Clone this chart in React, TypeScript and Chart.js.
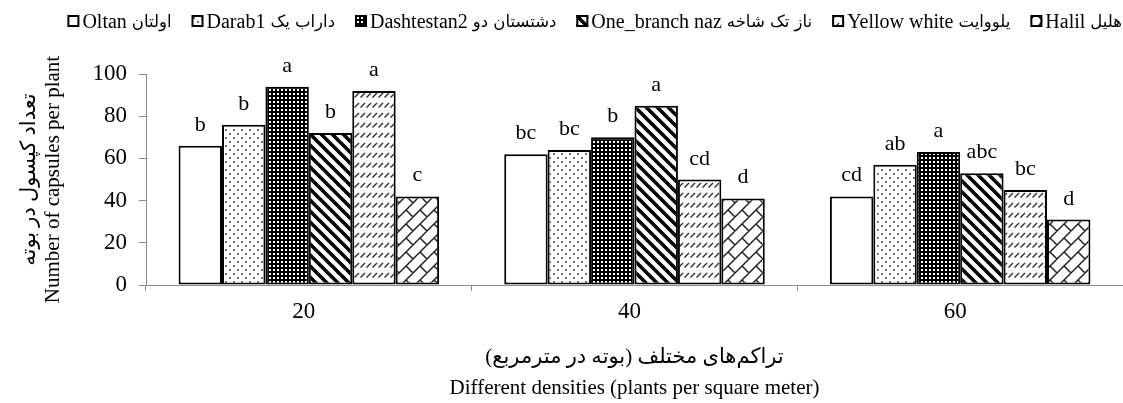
import React, { useEffect, useRef } from 'react';
import { Chart, registerables } from 'chart.js';

Chart.register(...registerables);

// ---------- data ----------
const categories = ['20', '40', '60'];
const seriesNames = ['Oltan', 'Darab1', 'Dashtestan2', 'One_branch naz', 'Yellow white', 'Halil'];
const seriesNamesFa = ['اولتان', 'داراب یک', 'دشتستان دو', 'ناز تک شاخه', 'یلووایت', 'هلیل'];
const oltan = [66, 62, 42];
const darab1 = [76, 64, 57];
const dashtestan2 = [94, 70, 63];
const oneBranchNaz = [72, 85, 53];
const yellowWhite = [92, 50, 45];
const halil = [42, 41, 31];

const oltanLetters = ['b', 'bc', 'cd'];
const darab1Letters = ['b', 'bc', 'ab'];
const dashtestan2Letters = ['a', 'b', 'a'];
const oneBranchNazLetters = ['b', 'a', 'abc'];
const yellowWhiteLetters = ['a', 'cd', 'bc'];
const halilLetters = ['c', 'd', 'd'];

const yTickValues = [0, 20, 40, 60, 80, 100];
const yTitle = ['تعداد کپسول در بوته', 'Number of capsules per plant'];
const xTitle = ['تراکم‌های مختلف (بوته در مترمربع)\u200F', 'Different densities (plants per square meter)'];

const FONT = "'Liberation Serif', 'Times New Roman', 'DejaVu Sans', serif";
const FA_FONT = "'DejaVu Sans', sans-serif";

// ---------- patterns ----------
function tile(w: number, h: number, draw: (c: CanvasRenderingContext2D) => void): CanvasPattern {
  const cv = document.createElement('canvas');
  cv.width = w;
  cv.height = h;
  const c = cv.getContext('2d') as CanvasRenderingContext2D;
  c.fillStyle = '#ffffff';
  c.fillRect(0, 0, w, h);
  draw(c);
  return c.createPattern(cv, 'repeat') as CanvasPattern;
}

function makePatterns(): (string | CanvasPattern)[] {
  const dots = tile(8, 8, (c) => {
    c.fillStyle = '#444';
    c.beginPath();
    c.arc(2, 2, 1, 0, Math.PI * 2);
    c.arc(6, 6, 1, 0, Math.PI * 2);
    c.fill();
  });
  const dense = tile(4, 4, (c) => {
    c.fillStyle = '#000';
    c.fillRect(0, 0, 4, 4);
    c.fillStyle = '#fff';
    c.fillRect(1, 1, 2, 2);
  });
  const stripes = tile(11, 11, (c) => {
    const s = 11;
    c.strokeStyle = '#000';
    c.lineWidth = 3.6;
    for (let k = -1; k <= 1; k++) {
      c.beginPath();
      c.moveTo(k * s - 2, -2);
      c.lineTo(k * s + s + 2, s + 2);
      c.stroke();
    }
  });
  const dashes = tile(6, 10, (c) => {
    c.strokeStyle = '#333';
    c.lineWidth = 1.4;
    c.beginPath();
    c.moveTo(0.5, 7.5);
    c.lineTo(5, 3);
    c.stroke();
  });
  const brick = tile(14, 14, (c) => {
    const s = 14;
    c.strokeStyle = '#222';
    c.lineWidth = 1.5;
    c.beginPath();
    c.moveTo(-s, s);
    c.lineTo(s, -s);
    c.moveTo(0, s);
    c.lineTo(s, 0);
    c.moveTo(0, 2 * s);
    c.lineTo(2 * s, 0);
    const starts = [
      [0, 0],
      [s, 0],
      [0, s],
      [s, s],
      [-s, 0],
      [0, -s],
    ];
    for (const [x, y] of starts) {
      c.moveTo(x, y);
      c.lineTo(x + s / 2, y + s / 2);
    }
    c.stroke();
  });
  return ['#ffffff', dots, dense, stripes, dashes, brick];
}

// ---------- plugins ----------
const letterSets = [
  oltanLetters,
  darab1Letters,
  dashtestan2Letters,
  oneBranchNazLetters,
  yellowWhiteLetters,
  halilLetters,
];

const lettersPlugin = {
  id: 'sigLetters',
  afterDatasetsDraw(chart: any) {
    const ctx = chart.ctx as CanvasRenderingContext2D;
    ctx.save();
    ctx.font = `22px ${FONT}`;
    ctx.fillStyle = '#000';
    ctx.textAlign = 'center';
    ctx.textBaseline = 'alphabetic';
    chart.data.datasets.forEach((_ds: any, i: number) => {
      const meta = chart.getDatasetMeta(i);
      meta.data.forEach((el: any, j: number) => {
        const t = letterSets[i][j];
        if (t) ctx.fillText(t, el.x, el.y - 15);
      });
    });
    ctx.restore();
  },
};

// Legend: box, English name (serif) and Persian name, laid out right-aligned as in the source.
const legendPlugin = {
  id: 'bilingualLegend',
  afterDraw(chart: any) {
    const ctx = chart.ctx as CanvasRenderingContext2D;
    const enFont = `20px ${FONT}`;
    const faFont = `16.5px ${FA_FONT}`;
    const boxW = 12;
    const gapBoxText = 3;
    const gapItems = 20;
    const cy = 21;
    ctx.save();
    const items = chart.data.datasets.map((ds: any, i: number) => {
      ctx.font = enFont;
      const en = seriesNames[i] + ' ';
      const we = ctx.measureText(en).width;
      ctx.font = faFont;
      const wf = ctx.measureText(seriesNamesFa[i]).width;
      return { bg: ds.backgroundColor, en, fa: seriesNamesFa[i], we, wf };
    });
    const total =
      items.reduce((a: number, it: any) => a + boxW + gapBoxText + it.we + it.wf, 0) +
      gapItems * (items.length - 1);
    let x = chart.width - 1 - total;
    ctx.textBaseline = 'alphabetic';
    ctx.textAlign = 'left';
    for (const it of items) {
      ctx.fillStyle = it.bg;
      ctx.fillRect(x, cy - boxW / 2, boxW, boxW);
      ctx.strokeStyle = '#000';
      ctx.lineWidth = 2;
      ctx.strokeRect(x + 1, cy - boxW / 2 + 1, boxW - 2, boxW - 2);
      x += boxW + gapBoxText;
      ctx.fillStyle = '#000';
      ctx.font = enFont;
      ctx.fillText(it.en, x, cy + 7);
      x += it.we;
      ctx.font = faFont;
      ctx.fillText(it.fa, x, cy + 6);
      x += it.wf + gapItems;
    }
    ctx.restore();
  },
};

export default function App() {
  const ref = useRef<HTMLCanvasElement | null>(null);

  useEffect(() => {
    if (!ref.current) return;
    const patterns = makePatterns();
    const values = [oltan, darab1, dashtestan2, oneBranchNaz, yellowWhite, halil];
    const chart = new Chart(ref.current, {
      type: 'bar',
      data: {
        labels: categories,
        datasets: values.map((v, i) => ({
          label: seriesNames[i] + ' ' + seriesNamesFa[i],
          data: v,
          backgroundColor: patterns[i] as any,
          borderColor: '#000',
          borderWidth: 2,
          borderSkipped: false,
          categoryPercentage: 0.8,
          barPercentage: 1.0,
        })),
      },
      options: {
        responsive: false,
        animation: false,
        events: [],
        devicePixelRatio: 1,
        layout: { padding: { top: 74, left: 0, right: 0, bottom: 0 } },
        plugins: {
          tooltip: { enabled: false },
          legend: { display: false },
        },
        scales: {
          x: {
            grid: {
              display: true,
              drawOnChartArea: false,
              drawTicks: true,
              tickLength: 6,
              color: '#8c8c8c',
              offset: true,
            },
            border: { display: true, color: '#8c8c8c', width: 1 },
            ticks: { color: '#000', padding: 7, labelOffset: -5, font: { family: FONT, size: 23 } },
            title: {
              display: true,
              text: xTitle,
              color: '#000',
              font: { family: FONT, size: 21, lineHeight: 1.43 },
              padding: { top: 0, bottom: 0 },
            },
            afterFit: (s: any) => {
              s.height = 118;
            },
          },
          y: {
            min: 0,
            max: 100,
            afterBuildTicks: (s: any) => {
              s.ticks = yTickValues.map((v) => ({ value: v }));
            },
            grid: {
              display: true,
              drawOnChartArea: false,
              drawTicks: true,
              tickLength: 7,
              color: '#8c8c8c',
            },
            border: { display: true, color: '#8c8c8c', width: 1 },
            ticks: { color: '#000', padding: 12, font: { family: FONT, size: 23 } },
            title: {
              display: true,
              text: yTitle,
              color: '#000',
              font: { family: FONT, size: 21, lineHeight: 1.15 },
              padding: { top: 17, bottom: 0 },
            },
            afterFit: (s: any) => {
              s.width = 146;
            },
          },
        },
      } as any,
      plugins: [lettersPlugin, legendPlugin],
    });
    return () => chart.destroy();
  }, []);

  return (
    <div style={{ position: 'absolute', left: 0, top: 0, width: 1123, height: 403, background: '#fff' }}>
      <canvas ref={ref} width={1123} height={403} style={{ display: 'block' }} />
    </div>
  );
}
